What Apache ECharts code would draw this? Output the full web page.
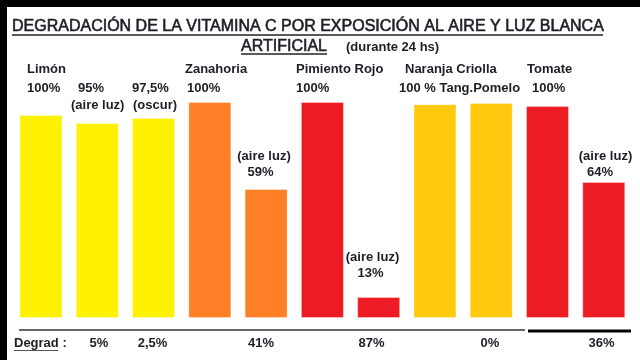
<!DOCTYPE html>
<html>
<head>
<meta charset="utf-8">
<script src="https://cdn.jsdelivr.net/npm/echarts@6/dist/echarts.min.js"></script>
<style>html,body{margin:0;padding:0;background:#fff}#c{width:640px;height:360px}</style>
</head>
<body>
<div id="c"></div>
<script>
// ---- data ----
const categories = ["Limón","Limón (aire luz)","Limón (oscur)","Zanahoria","Zanahoria (aire luz)","Pimiento Rojo","Pimiento Rojo (aire luz)","Naranja Criolla","Tang.Pomelo","Tomate","Tomate (aire luz)"];
// drawn bar heights (relative, 100 = full bar of Zanahoria)
const barHeights = [94, 90.3, 92.6, 100, 59.7, 100, 9.7, 99, 99.5, 98.1, 63];
const vitaminLabels = ["100%","95%","97,5%","100%","59%","100%","13%","100 %","","100%","64%"];
const groupNames = ["Limón","Zanahoria","Pimiento Rojo","Naranja Criolla","Tomate"];
const degradLabels = ["5%","2,5%","41%","87%","0%","36%"];
const titleText = "DEGRADACIÓN DE LA VITAMINA C POR EXPOSICIÓN AL AIRE Y LUZ BLANCA";
const subtitleText = "ARTIFICIAL";
const noteText = "(durante 24 hs)";

// ---- styles ----
const barColors = ["#FFF200","#FFF200","#FFF200","#FF7F27","#FF7F27","#ED1C24","#ED1C24","#FFC90E","#FFC90E","#ED1C24","#ED1C24"];
const TXT = "#1e1e26";
const F = "Liberation Sans, Arial, sans-serif";

const chart = echarts.init(document.getElementById('c'), null, {renderer:'canvas'});

function t(text, x, y, opts) {
  opts = opts || {};
  const st = {text:text, fill:TXT, font:(opts.bold===false?'':'bold ')+(opts.size||13)+'px '+F,
      textAlign:opts.align||'left', textVerticalAlign:'middle', verticalAlign:'middle'};
  if (opts.heavy) { st.stroke = TXT; st.lineWidth = 0.6; }
  return {type:'text', x:x, y:y, silent:true, z:10, style:st};
}
function ln(x1,y1,x2,y2,w,c){
  return {type:'line', silent:true, z:10, shape:{x1:x1,y1:y1,x2:x2,y2:y2}, style:{stroke:c||'#222', lineWidth:w||1}};
}

const graphics = [
  {type:'rect', shape:{x:0,y:0,width:640,height:7}, style:{fill:'#000'}, silent:true},
  {type:'rect', shape:{x:0,y:0,width:7,height:360}, style:{fill:'#000'}, silent:true},
  t(titleText, 12, 26.5, {bold:false, size:16, heavy:true}),
  ln(12,35,603,35,1.6,'#222'),
  t(subtitleText, 241, 46.5, {bold:false, size:16, heavy:true}),
  ln(241,54,327,54,1.6,'#222'),
  t(noteText, 346, 47.5),
  // group names
  t(groupNames[0], 27, 69), t(groupNames[1], 185, 69), t(groupNames[2], 296, 69),
  t(groupNames[3], 405, 69), t(groupNames[4], 527, 69),
  // values row
  t(vitaminLabels[0], 27, 88), t(vitaminLabels[1], 78, 88), t(vitaminLabels[2], 132, 88),
  t(vitaminLabels[3], 187, 88), t(vitaminLabels[5], 296, 88),
  t(vitaminLabels[7] + " " + categories[8], 399, 88), t(vitaminLabels[9], 532, 88),
  t("(aire luz)", 71, 105), t("(oscur)", 133, 105),
  t("(aire luz)", 264, 156, {align:'center'}), t(vitaminLabels[4], 260.5, 172.5, {align:'center'}),
  t("(aire luz)", 372.5, 257.5, {align:'center'}), t(vitaminLabels[6], 370.5, 273.5, {align:'center'}),
  t("(aire luz)", 605.5, 156, {align:'center'}), t(vitaminLabels[10], 600, 172.5, {align:'center'}),
  // bottom
  ln(19,330,525,330,1.5,'#333'),
  ln(528,331,631,331,3,'#000'),
  t("Degrad :", 14, 343),
  ln(14,350.5,58,350.5,1.2,'#555'),
  t(degradLabels[0], 99, 343, {align:'center'}),
  t(degradLabels[1], 152.5, 343, {align:'center'}),
  t(degradLabels[2], 261, 343, {align:'center'}),
  t(degradLabels[3], 371.5, 343, {align:'center'}),
  t(degradLabels[4], 490, 343, {align:'center'}),
  t(degradLabels[5], 601.5, 343, {align:'center'})
];

chart.setOption({
  backgroundColor:'#fff',
  animation:false,
  grid:{left:12.9, right:8.1, top:80.4, bottom:42},
  xAxis:{type:'category', data:categories, show:false},
  yAxis:{type:'value', min:0, max:110, show:false},
  series:[{
    type:'bar',
    barWidth:43,
    data: barHeights.map((v,i)=>({value:v, itemStyle:{color:barColors[i], borderColor:'rgba(255,255,255,0.35)', borderWidth:1}}))
  }],
  graphic: graphics
});
</script>
</body>
</html>
